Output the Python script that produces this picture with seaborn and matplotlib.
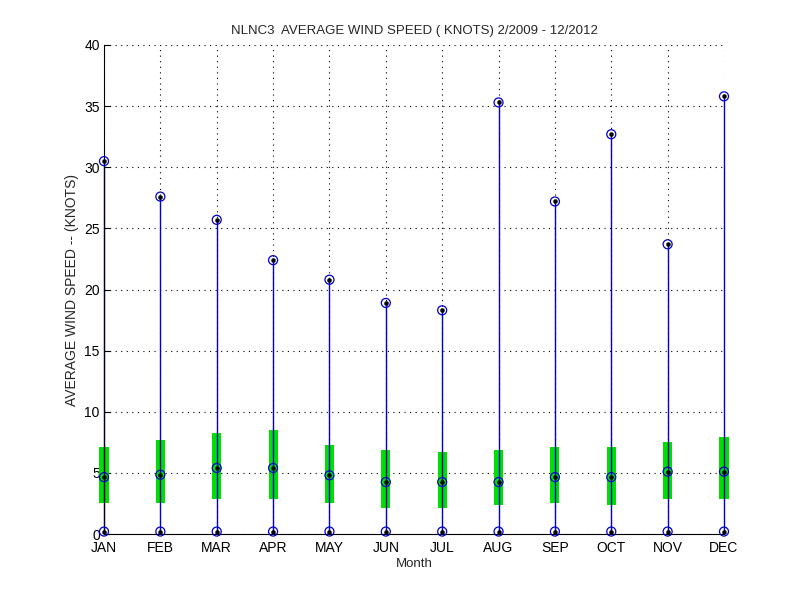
import numpy as np
import pandas as pd
import seaborn as sns
import matplotlib.pyplot as plt

months = ['JAN', 'FEB', 'MAR', 'APR', 'MAY', 'JUN', 'JUL', 'AUG', 'SEP', 'OCT', 'NOV', 'DEC']
wind_min = [0.2, 0.2, 0.2, 0.2, 0.2, 0.2, 0.2, 0.2, 0.2, 0.2, 0.2, 0.2]
wind_max = [30.5, 27.6, 25.7, 22.4, 20.8, 18.9, 18.3, 35.3, 27.2, 32.7, 23.7, 35.8]
q25 = [2.5, 2.5, 2.9, 2.9, 2.5, 2.1, 2.1, 2.35, 2.5, 2.35, 2.9, 2.9]
q75 = [7.1, 7.7, 8.3, 8.5, 7.3, 6.9, 6.7, 6.9, 7.1, 7.1, 7.5, 7.9]
median = [4.65, 4.85, 5.4, 5.4, 4.8, 4.25, 4.25, 4.25, 4.65, 4.65, 5.1, 5.1]

df = pd.DataFrame({'month': months, 'pos': np.arange(1, 13), 'min': wind_min,
                   'max': wind_max, 'q25': q25, 'q75': q75, 'median': median})

sns.set_style('white')
plt.rcParams['font.family'] = ['Liberation Sans', 'DejaVu Sans']

fig = plt.figure(figsize=(8, 6), dpi=100)
ax = fig.add_axes([0.13, 0.11, 0.775, 0.815])

# whiskers min..max
ax.vlines(df['pos'], df['min'], df['max'], color='#0000cc', lw=1, zorder=2, clip_on=False)
# interquartile boxes
bars = ax.bar(df['pos'], df['q75'] - df['q25'], bottom=df['q25'], width=0.16,
              color='#00e000', edgecolor='none', zorder=1)
for b in bars:
    b.set_clip_on(False)

pts = pd.concat([df[['pos', 'min']].rename(columns={'min': 'v'}),
                 df[['pos', 'median']].rename(columns={'median': 'v'}),
                 df[['pos', 'max']].rename(columns={'max': 'v'})])
sns.scatterplot(data=pts, x='pos', y='v', marker='o', s=42, facecolor='none',
                edgecolor='#0000cc', linewidth=0.9, ax=ax, zorder=3, clip_on=False)
sns.scatterplot(data=pts, x='pos', y='v', marker='o', s=9, color='black',
                edgecolor='black', ax=ax, zorder=4, clip_on=False)

ax.set_xlim(1, 12)
ax.set_ylim(0, 40)
ax.set_xticks(df['pos'])
ax.set_xticklabels(months)
ax.set_yticks(np.arange(0, 41, 5))
ax.grid(True, color='black', linestyle=(0, (1, 4)), linewidth=0.8)
for s in ['top', 'right']:
    ax.spines[s].set_visible(False)
for s in ['left', 'bottom']:
    ax.spines[s].set_color('black')
    ax.spines[s].set_linewidth(0.8)
ax.tick_params(direction='in', length=4, labelsize=10, colors='black', left=True, bottom=True)
ax.tick_params(axis='y', pad=3)
ax.tick_params(axis='x', pad=5)
ax.set_xlabel('Month', fontsize=9.5, labelpad=2)
ax.set_ylabel('AVERAGE WIND SPEED -- (KNOTS)', fontsize=10)
ax.set_title('NLNC3  AVERAGE WIND SPEED ( KNOTS) 2/2009 - 12/2012', fontsize=9.5, pad=8)

fig.savefig('out.png', dpi=100, facecolor='white')
